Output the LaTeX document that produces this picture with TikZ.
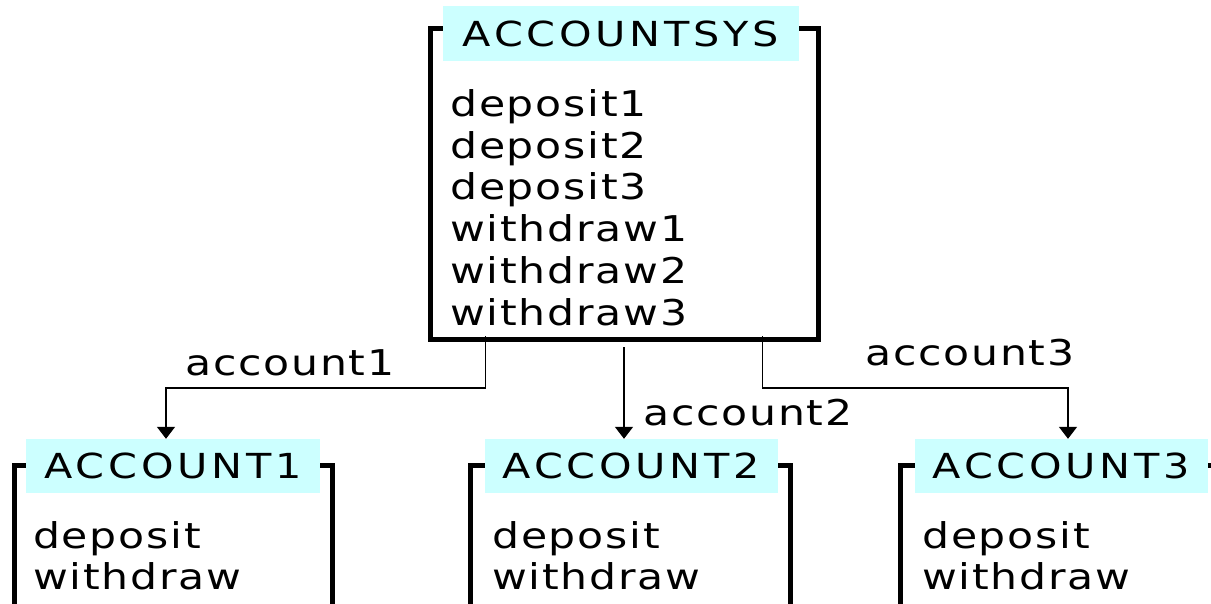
\documentclass[tikz,border=0pt]{standalone}
\usepackage{fontspec}
\setmainfont{DejaVu Sans}
\newfontfamily\lowfont[FakeStretch=1.2, LetterSpace=5]{DejaVu Sans}
\newfontfamily\capfont[FakeStretch=1.2, LetterSpace=11]{DejaVu Sans}
\usetikzlibrary{arrows.meta}
\definecolor{titlecyan}{HTML}{CCFFFF}
\tikzset{
  frame/.style={line width=5pt, line join=miter},
  title/.style={fill=titlecyan, inner sep=0pt, minimum height=54pt,
    font=\fontsize{34.5}{35}\capfont},
  item/.style={anchor=base west, inner sep=0pt, font=\fontsize{35.5}{36}\lowfont},
  link/.style={line width=1.5pt, -{Triangle[width=18pt,length=12pt]}},
}
\begin{document}
\begin{tikzpicture}[x=1pt,y=-1pt]
\clip (0,0) rectangle (1211,603);
\fill[white] (0,0) rectangle (1211,603);

% frames (drawn first, the title bars cover their inner ends)
\draw[frame] (450,28.5) -- (430.5,28.5) -- (430.5,339.5) -- (818.5,339.5) -- (818.5,28.5) -- (790,28.5);
\draw[frame] (40,465.5) -- (14,465.5) -- (14,620);
\draw[frame] (310,465.5) -- (332.5,465.5) -- (332.5,620);
\draw[frame] (500,465.5) -- (470.5,465.5) -- (470.5,620);
\draw[frame] (770,465.5) -- (790.5,465.5) -- (790.5,620);
\draw[frame] (930,465.5) -- (900.5,465.5) -- (900.5,620);
\draw[frame] (1200,465.5) -- (1222,465.5) -- (1222,620);

% title bars
\node[title, minimum width=356pt, minimum height=55pt] (sys) at (621,33.5) {ACCOUNTSYS};
\node[title, minimum width=294pt] (acc1) at (173,466) {ACCOUNT1};
\node[title, minimum width=293pt] (acc2) at (631.5,466) {ACCOUNT2};
\node[title, minimum width=293pt] (acc3) at (1061.5,466) {ACCOUNT3};

% operations of the system
\foreach \t [count=\i from 0] in {deposit1,deposit2,deposit3,withdraw1,withdraw2,withdraw3}
  \node[item] (sysop\i) at (450,{116.5+41.7*\i}) {\t};

% operations of each account
\node[item] (dep1) at (33,548) {deposit};
\node[item] (wd1) at (33,589) {withdraw};
\node[item] (dep2) at (492,548) {deposit};
\node[item] (wd2) at (492,589) {withdraw};
\node[item] (dep3) at (922,548) {deposit};
\node[item] (wd3) at (922,589) {withdraw};

% connectors
\coordinate (out1) at (485.5,336);
\coordinate (out2) at (624,347);
\coordinate (out3) at (762.5,336);
\draw[link] (out1) -- (485.5,388) -| (acc1.north -| 166,0);
\draw[link] (out2) -- (acc2.north -| out2);
\draw[link] (out3) -- (762.5,388) -| (acc3.north -| 1068,0);

% connector labels
\node[item] (lab1) at (185,375) {account1};
\node[item] (lab2) at (643,425) {account2};
\node[item] (lab3) at (865,365) {account3};
\end{tikzpicture}
\end{document}
